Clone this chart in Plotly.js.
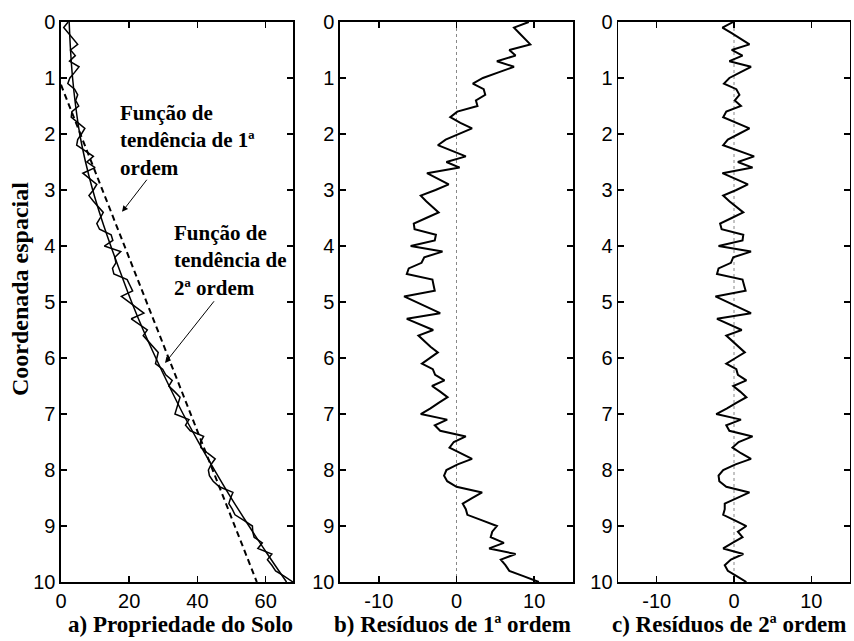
<!DOCTYPE html>
<html><head><meta charset="utf-8">
<script src="https://cdn.plot.ly/plotly-3.0.1.min.js"></script>
<style>html,body{margin:0;padding:0;background:#fff}#chart{width:854px;height:641px}</style>
</head><body><div id="chart"></div>
<script>
// Depth (Coordenada espacial)
const depth = [0,0.1,0.2,0.3,0.4,0.5,0.6,0.7,0.8,0.9,
  1,1.1,1.2,1.3,1.4,1.5,1.6,1.7,1.8,1.9,
  2,2.1,2.2,2.3,2.4,2.5,2.6,2.7,2.8,2.9,
  3,3.1,3.2,3.3,3.4,3.5,3.6,3.7,3.8,3.9,
  4,4.1,4.2,4.3,4.4,4.5,4.6,4.7,4.8,4.9,
  5,5.1,5.2,5.3,5.4,5.5,5.6,5.7,5.8,5.9,
  6,6.1,6.2,6.3,6.4,6.5,6.6,6.7,6.8,6.9,
  7,7.1,7.2,7.3,7.4,7.5,7.6,7.7,7.8,7.9,
  8,8.1,8.2,8.3,8.4,8.5,8.6,8.7,8.8,8.9,
  9,9.1,9.2,9.3,9.4,9.5,9.6,9.7,9.8,9.9,10];

// a) Propriedade do Solo
const soilProperty = [2.1,0.8,2.2,3.5,4.9,2.8,4.2,2.5,5.3,4.0,
  2.6,2.0,4.0,4.9,4.3,5.2,3.2,3.0,4.9,7.0,
  6.0,4.9,4.6,6.9,9.5,7.6,10.0,6.4,8.5,10.5,
  9.5,8.2,9.5,11.0,12.4,11.5,10.5,11.3,14.7,15.2,
  12.7,17.5,15.8,16.1,15.1,15.5,19.4,20.2,21.0,17.7,
  19.9,22.1,24.3,20.6,23.0,25.3,24.1,25.5,26.9,28.5,
  28.1,27.7,29.8,30.7,32.6,31.6,33.3,34.9,34.4,34.0,
  33.4,37.5,36.5,37.9,41.8,40.9,41.0,43.0,45.2,44.0,
  43.2,43.5,44.6,46.4,50.4,49.7,49.2,50.2,51.0,53.6,
  56.1,56.2,56.6,59.0,57.7,61.8,60.5,61.8,62.9,65.5,68.0];

// Trend functions
const trend2Depth = [0,0.5,1,1.5,2,2.5,3,3.5,4,4.5,5,5.5,6,6.5,7,7.5,8,8.5,9,9.5,10];
const trend2Value = [2.4,2.8,3.4,4.3,5.5,7.2,9.3,11.8,14.6,17.6,20.7,24.1,27.8,31.7,35.8,40.3,45.0,49.9,55.1,60.5,66.1];
const trend1Depth = [1.12,10];
const trend1Value = [0,57.4];

// b) Resíduos de 1ª ordem
const residual1 = [9.3,7.4,8.1,8.8,9.5,6.8,7.6,5.2,7.4,5.4,
  3.4,2.1,3.5,3.7,2.5,2.7,0.1,-0.8,0.5,2.0,
  0.3,-1.4,-2.4,-0.7,1.2,-1.3,0.4,-3.8,-2.4,-1.0,
  -2.7,-4.6,-3.9,-3.1,-2.3,-3.9,-5.5,-5.4,-2.65,-2.8,
  -5.9,-1.8,-4.15,-4.5,-6.15,-6.4,-3.1,-2.95,-2.8,-6.75,
  -5.15,-3.65,-2.1,-6.4,-4.7,-3.0,-4.9,-4.1,-3.35,-2.4,
  -3.4,-4.45,-3.05,-2.75,-1.55,-3.15,-2.1,-1.15,-2.3,-3.35,
  -4.6,-1.2,-2.8,-2.1,1.2,-0.35,-0.9,0.45,2.0,0.15,
  -1.3,-1.6,-1.2,0.0,3.3,2.0,0.8,1.2,1.4,3.3,
  5.2,4.6,4.4,6.1,4.2,7.6,5.7,6.3,6.8,8.7,10.6];

// c) Resíduos de 2ª ordem
const residual2 = [-0.1,-1.5,-0.3,0.9,2.0,-0.3,1.1,-0.6,2.2,0.8,
  -0.6,-1.3,0.3,0.7,0.1,0.9,-1.0,-1.4,0.3,2.0,
  0.6,-0.8,-1.4,0.5,2.6,0.5,2.4,-1.5,0.2,1.8,
  0.3,-1.4,-0.6,0.3,1.2,-0.3,-1.8,-1.6,1.2,1.1,
  -2.0,2.2,-0.1,-0.4,-2.0,-2.2,1.1,1.3,1.5,-2.4,
  -0.8,0.7,2.2,-2.2,-0.6,1.0,-1.0,-0.2,0.5,1.4,
  0.2,-1.0,0.3,0.5,1.6,-0.1,0.8,1.6,0.3,-0.9,
  -2.3,0.9,-1.0,-0.6,2.4,0.6,-0.2,0.9,2.2,0.2,
  -1.4,-2.0,-1.9,-1.0,2.0,0.4,-1.2,-1.2,-1.4,0.1,
  1.6,0.5,1.1,-0.2,-1.4,1.2,-0.4,-1.2,-0.8,0.4,1.6];

const zeroX = [0,0];
const zeroY = [0,10];

const yTicks = [0,1,2,3,4,5,6,7,8,9,10];
const xTicksA = [0,20,40,60];
const xTicksRes = [-10,0,10];
const xTickTextRes = ['-10','0','10'];

const sans = 'Liberation Sans, Arial, sans-serif';
const serif = 'Liberation Serif, Times New Roman, serif';

const blk = {color:'#000', width:2};
const traces = [
  {x:soilProperty, y:depth, xaxis:'x', yaxis:'y', mode:'lines', line:{color:'#000', width:1.5}},
  {x:trend2Value, y:trend2Depth, xaxis:'x', yaxis:'y', mode:'lines', line:{color:'#000', width:1.5, shape:'spline'}},
  {x:trend1Value, y:trend1Depth, xaxis:'x', yaxis:'y', mode:'lines', line:{color:'#000', width:2, dash:'6px,4px'}},
  {x:zeroX, y:zeroY, xaxis:'x2', yaxis:'y2', mode:'lines', line:{color:'#888', width:1, dash:'dot'}},
  {x:residual1, y:depth, xaxis:'x2', yaxis:'y2', mode:'lines', line:blk},
  {x:zeroX, y:zeroY, xaxis:'x3', yaxis:'y3', mode:'lines', line:{color:'#888', width:1, dash:'dot'}},
  {x:residual2, y:depth, xaxis:'x3', yaxis:'y3', mode:'lines', line:blk}
];

function ax(extra){
  return Object.assign({showline:true, linecolor:'#000', linewidth:1.5, mirror:'ticks',
    ticks:'inside', ticklen:6, tickwidth:1.5, tickcolor:'#000', showgrid:false, zeroline:false,
    tickfont:{family:sans, size:20, color:'#000'}, fixedrange:true}, extra);
}
const yTitleFont = {family:serif, size:24, color:'#000'};
const titleFont = {family:serif, size:23, color:'#000'};
const noteFont = {family:serif, size:21, color:'#000'};
const yDom = [0.092, 0.9657];
const bottomY = 0.0250;

const layout = {
  width:854, height:641, margin:{l:0,r:0,t:0,b:0}, paper_bgcolor:'#fff', plot_bgcolor:'#fff',
  showlegend:false, hovermode:false,
  xaxis: ax({domain:[0.0714,0.3431], range:[0,68], tickvals:xTicksA, anchor:'y'}),
  xaxis2: ax({domain:[0.3981,0.6710], range:[-15,15], tickvals:xTicksRes, ticktext:xTickTextRes, anchor:'y2'}),
  xaxis3: ax({domain:[0.7237,0.9953], range:[-15,15], tickvals:xTicksRes, ticktext:xTickTextRes, anchor:'y3'}),
  yaxis: ax({domain:yDom, range:[10,0], tickvals:yTicks, anchor:'x'}),
  yaxis2: ax({domain:yDom, range:[10,0], tickvals:yTicks, anchor:'x2'}),
  yaxis3: ax({domain:yDom, range:[10,0], tickvals:yTicks, anchor:'x3'}),
  annotations:[
    {text:'<b>Coordenada espacial</b>', xref:'paper', yref:'paper', x:0.0234, y:0.549,
     xanchor:'center', yanchor:'middle', textangle:-90, showarrow:false, font:yTitleFont},
    {text:'<b>a) Propriedade do Solo</b>', xref:'paper', yref:'paper', x:0.2108, y:bottomY,
     xanchor:'center', yanchor:'middle', showarrow:false, font:titleFont},
    {text:'<b>b) Resíduos de 1ª ordem</b>', xref:'paper', yref:'paper', x:0.5293, y:bottomY,
     xanchor:'center', yanchor:'middle', showarrow:false, font:titleFont},
    {text:'<b>c) Resíduos de 2ª ordem</b>', xref:'paper', yref:'paper', x:0.8536, y:bottomY,
     xanchor:'center', yanchor:'middle', showarrow:false, font:titleFont},
    {text:'<b>Função de<br>tendência de 1ª<br>ordem</b>', xref:'x', yref:'y', x:16.7, y:1.38,
     xanchor:'left', yanchor:'top', align:'left', showarrow:false, font:noteFont},
    {text:'<b>Função de<br>tendência de<br>2ª ordem</b>', xref:'x', yref:'y', x:32.6, y:3.52,
     xanchor:'left', yanchor:'top', align:'left', showarrow:false, font:noteFont},
    {text:'', xref:'x', yref:'y', x:17.9, y:3.39, axref:'x', ayref:'y', ax:25.5, ay:2.79,
     showarrow:true, arrowhead:2, arrowsize:1.2, arrowwidth:1, arrowcolor:'#000'},
    {text:'', xref:'x', yref:'y', x:30.5, y:6.09, axref:'x', ayref:'y', ax:45.2, ay:4.96,
     showarrow:true, arrowhead:2, arrowsize:1.2, arrowwidth:1, arrowcolor:'#000'}
  ]
};

Plotly.newPlot('chart', traces, layout, {staticPlot:true, displayModeBar:false});
</script></body></html>
